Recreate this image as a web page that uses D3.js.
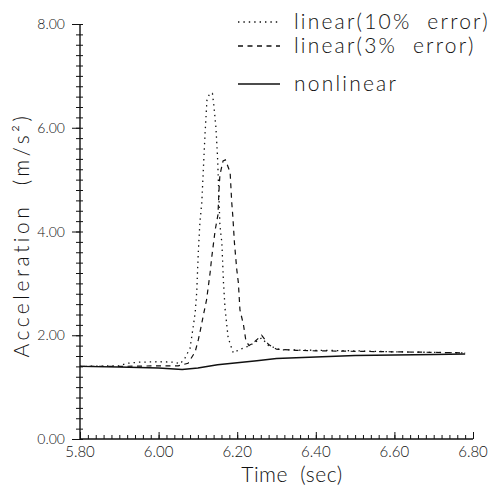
<!DOCTYPE html>
<html>
<head>
<meta charset="utf-8">
<script src="https://cdn.jsdelivr.net/npm/d3@7"></script>
<style>
  html, body { margin: 0; padding: 0; background: #fff; }
  svg { display: block; }
  text { font-family: Lato, "Open Sans", "DejaVu Sans", sans-serif; font-weight: 300; fill: #111; white-space: pre; }
</style>
</head>
<body>
<svg id="chart" width="504" height="490"></svg>
<script>
// ---- data ----
const xTickLabels = ["5.80", "6.00", "6.20", "6.40", "6.60", "6.80"];
const yTickLabels = ["0.00", "2.00", "4.00", "6.00", "8.00"];
const seriesNames = ["linear(10%  error)", "linear(3%  error)", "nonlinear"];

const nonlinearT = [5.80, 5.90, 6.00, 6.04, 6.06, 6.10, 6.15, 6.20, 6.25, 6.30, 6.40, 6.50, 6.60, 6.70, 6.78];
const nonlinearV = [1.40, 1.39, 1.37, 1.35, 1.34, 1.37, 1.43, 1.47, 1.51, 1.55, 1.58, 1.61, 1.62, 1.63, 1.64];

const lin10T = [5.80, 5.90, 5.92, 5.95, 6.00, 6.04, 6.055, 6.067, 6.080, 6.088, 6.093, 6.097, 6.101, 6.105, 6.110, 6.114, 6.118, 6.123, 6.130, 6.137, 6.141, 6.146, 6.150, 6.156, 6.161, 6.165, 6.169, 6.177, 6.190, 6.205, 6.225, 6.245, 6.262, 6.28, 6.31, 6.40, 6.50, 6.60, 6.70, 6.78];
const lin10V = [1.40, 1.41, 1.46, 1.48, 1.49, 1.48, 1.45, 1.56, 1.75, 2.16, 2.43, 2.83, 3.60, 4.16, 4.57, 5.22, 5.86, 6.53, 6.66, 6.66, 6.40, 5.99, 5.43, 4.12, 3.78, 3.03, 2.52, 1.95, 1.66, 1.72, 1.78, 1.86, 1.95, 1.80, 1.72, 1.71, 1.70, 1.68, 1.67, 1.66];

const lin3T = [5.80, 5.90, 6.00, 6.05, 6.075, 6.093, 6.101, 6.108, 6.114, 6.122, 6.131, 6.135, 6.144, 6.151, 6.154, 6.156, 6.164, 6.170, 6.182, 6.186, 6.189, 6.193, 6.199, 6.203, 6.207, 6.216, 6.222, 6.230, 6.245, 6.262, 6.28, 6.30, 6.35, 6.40, 6.50, 6.60, 6.70, 6.78];
const lin3V = [1.40, 1.40, 1.41, 1.41, 1.46, 1.68, 1.91, 2.16, 2.39, 2.68, 3.20, 3.49, 4.03, 4.32, 4.84, 5.09, 5.36, 5.38, 5.14, 4.57, 4.28, 3.78, 3.26, 3.01, 2.49, 2.20, 1.90, 1.80, 1.88, 2.00, 1.82, 1.73, 1.71, 1.70, 1.69, 1.68, 1.67, 1.66];

// ---- layout ----
const svg = d3.select("#chart");
const x = d3.scaleLinear().domain([5.8, 6.8]).range([80, 473]);
const y = d3.scaleLinear().domain([0, 8]).range([439, 24]);

const styles = [
  { dash: "1.4,4", width: 1.3 },
  { dash: "5,4.5", width: 1.2 },
  { dash: null, width: 1.5 }
];
const series = [
  { t: lin10T, v: lin10V },
  { t: lin3T, v: lin3V },
  { t: nonlinearT, v: nonlinearV }
];

// ---- axes ----
const minorX = d3.range(0, 51).map(i => 5.8 + i * 0.02);
const minorY = d3.range(0, 41).map(i => i * 0.2);
const majorX = xTickLabels.map(Number);
const majorY = yTickLabels.map(Number);

function styleAxis(g) {
  g.select(".domain").remove();
  g.selectAll(".tick line").attr("stroke", "#111").attr("stroke-width", 1);
}

svg.append("line").attr("x1", x(5.8)).attr("x2", x(6.8)).attr("y1", y(0)).attr("y2", y(0))
  .attr("stroke", "#111").attr("stroke-width", 1.6);
svg.append("line").attr("x1", x(5.8)).attr("x2", x(5.8)).attr("y1", y(0)).attr("y2", y(8))
  .attr("stroke", "#111").attr("stroke-width", 1.4);

svg.append("g").attr("transform", `translate(0,${y(0)})`)
  .call(d3.axisTop(x).tickValues(minorX).tickSize(4).tickFormat(""))
  .call(styleAxis);
svg.append("g").attr("transform", `translate(0,${y(0)})`)
  .call(d3.axisTop(x).tickValues(majorX).tickSize(7).tickFormat(""))
  .call(styleAxis);
svg.append("g").selectAll("text").data(xTickLabels).join("text")
  .attr("x", d => x(+d)).attr("y", y(0) + 18)
  .attr("text-anchor", "middle").attr("font-size", 15).text(d => d);

svg.append("g").attr("transform", `translate(${x(5.8)},0)`)
  .call(d3.axisLeft(y).tickValues(minorY).tickSize(4).tickFormat(""))
  .call(styleAxis);
svg.append("g").attr("transform", `translate(${x(5.8)},0)`)
  .call(d3.axisRight(y).tickValues(minorY).tickSize(3).tickFormat(""))
  .call(styleAxis);
svg.append("g").attr("transform", `translate(${x(5.8)},0)`)
  .call(d3.axisLeft(y).tickValues(majorY).tickSize(8).tickFormat(""))
  .call(styleAxis);
svg.append("g").selectAll("text").data(yTickLabels).join("text")
  .attr("x", x(5.8) - 15).attr("y", d => y(+d) + 5)
  .attr("text-anchor", "end").attr("font-size", 14).text(d => d);

// axis titles
svg.append("text").attr("x", 292).attr("y", 482).attr("text-anchor", "middle")
  .attr("font-size", 21).attr("letter-spacing", 0.5).text("Time  (sec)");
svg.append("text").attr("transform", `translate(29,235) rotate(-90)`).attr("text-anchor", "middle")
  .attr("font-size", 21).attr("letter-spacing", 3.5).text("Acceleration  (m/s²)");

// ---- lines ----
const line = d3.line().x(d => x(d[0])).y(d => y(d[1]));
series.forEach((s, i) => {
  const pts = s.t.map((t, j) => [t, s.v[j]]);
  svg.append("path").datum(pts).attr("d", line)
    .attr("fill", "none").attr("stroke", "#111")
    .attr("stroke-width", styles[i].width)
    .attr("stroke-dasharray", styles[i].dash);
});

// ---- legend ----
const legendY = [22, 46, 84];
const leg = svg.append("g");
seriesNames.forEach((name, i) => {
  leg.append("line").attr("x1", 238).attr("x2", 280).attr("y1", legendY[i]).attr("y2", legendY[i])
    .attr("stroke", "#111").attr("stroke-width", styles[i].width + 0.2)
    .attr("stroke-dasharray", styles[i].dash);
  leg.append("text").attr("x", 294).attr("y", legendY[i] + 7)
    .attr("font-size", 21).attr("letter-spacing", 2.2).text(name);
});
</script>
</body>
</html>
